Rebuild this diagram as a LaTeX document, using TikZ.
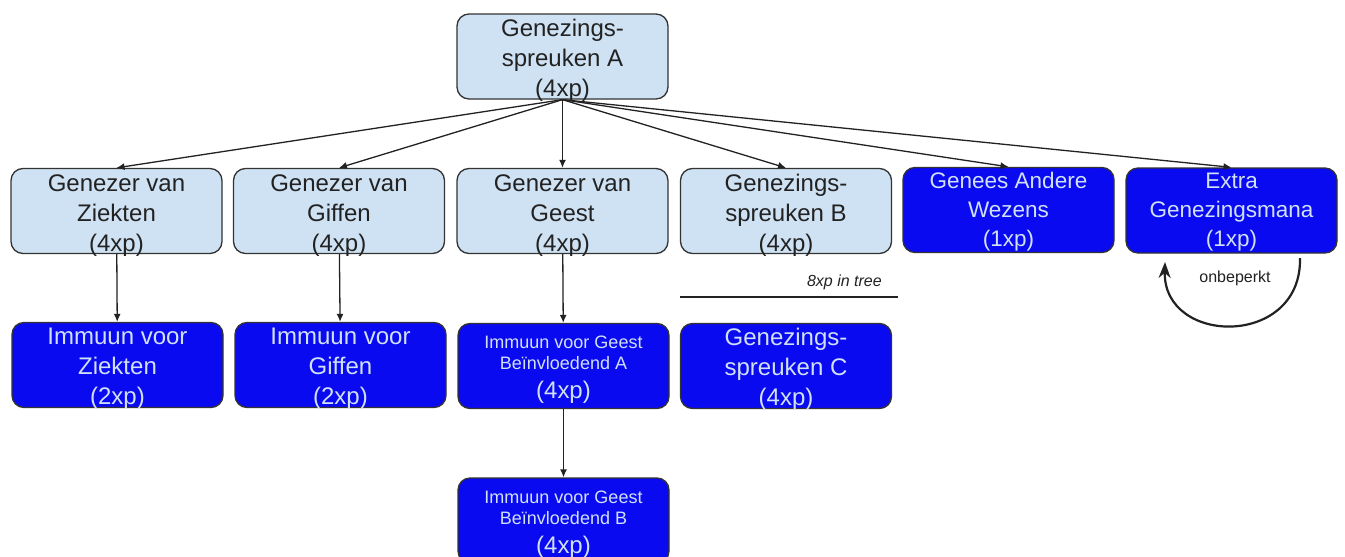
\documentclass[tikz,border=0pt]{standalone}
\usepackage{fontspec}
\setmainfont{Liberation Sans}
\usetikzlibrary{arrows.meta}
\definecolor{lightc}{HTML}{CFE2F3}
\definecolor{darkc}{HTML}{0A0AF0}
\definecolor{bordc}{HTML}{333333}
\definecolor{textd}{HTML}{222222}
\definecolor{textl}{HTML}{D0E0F8}
\definecolor{linec}{HTML}{222222}
\tikzset{
  lbox/.style={draw=bordc, line width=1.3, fill=lightc, rounded corners=12,
    minimum width=211, minimum height=85, inner sep=0, align=center,
    text depth=0, text height=81,
    text=textd, font=\fontsize{24}{30}\selectfont},
  dbox/.style={lbox, fill=darkc, text=textl},
  mbox/.style={dbox, font=\fontsize{22.5}{29}\selectfont, text height=72},
  sbox/.style={dbox, font=\fontsize{18}{21}\selectfont},
  conn/.style={draw=linec, line width=1.3, -{Latex[length=8,width=7]}},
  note/.style={inner sep=0, text=textd, font=\fontsize{16}{19}\selectfont}
}
\begin{document}
\begin{tikzpicture}[x=1pt,y=-1pt]
\clip (0,0) rectangle (1345,557);
\fill[white] (0,0) rectangle (1345,557);
% top
\node[lbox, text height=80] (A) at (562.5,56.5) {Genezings-\\spreuken A\\(4xp)};
% row 1
\node[lbox] (z)  at (116.5,211) {Genezer van\\Ziekten\\(4xp)};
\node[lbox] (gf) at (339,211) {Genezer van\\Giffen\\(4xp)};
\node[lbox] (ge) at (562.5,211) {Genezer van\\Geest\\(4xp)};
\node[lbox] (b)  at (786,211) {Genezings-\\spreuken B\\(4xp)};
\node[mbox] (an) at (1008.5,210) {Genees Andere\\Wezens\\(1xp)};
\node[mbox] (ex) at (1231.5,210.5) {Extra\\Genezingsmana\\(1xp)};
% row 2
\node[dbox, text height=79] (iz) at (117.5,365) {Immuun voor\\Ziekten\\(2xp)};
\node[dbox, text height=79] (ig) at (340.5,365) {Immuun voor\\Giffen\\(2xp)};
\node[sbox, text height=65] (ga) at (563.5,366) {Immuun voor Geest\\Beïnvloedend A\\[8pt]\fontsize{24}{30}\selectfont (4xp)};
\node[dbox, text height=79] (c)  at (786,366) {Genezings-\\spreuken C\\(4xp)};
% row 3
\node[sbox, text height=66] (gb) at (563.5,520.5) {Immuun voor Geest\\Beïnvloedend B\\[8pt]\fontsize{24}{30}\selectfont (4xp)};
% connectors
\foreach \t in {z,gf,ge,b,an,ex}{
  \draw[conn] (A.south) -- (\t.north);
}
\draw[conn] (z) -- (iz);
\draw[conn] (gf) -- (ig);
\draw[conn] (ge) -- (ga);
\draw[conn] (ga) -- (gb);
% tree separator
\coordinate (sepL) at (680,297);
\coordinate (sepR) at (898,297);
\draw[linec, line width=1.8] (sepL) -- (sepR);
\node[note, anchor=east, font=\fontsize{16}{19}\selectfont\itshape] (tree) at (882,282) {8xp in tree};
% loop
\coordinate (arcS) at (1300,258);
\coordinate (arcE) at (1165,262);
\draw[linec, line width=2.2, -{Stealth[length=16,width=12]}] (arcS) .. controls (1302,348) and (1163,346) .. (arcE);
\node[note] (onb) at (1235,278) {onbeperkt};
\end{tikzpicture}
\end{document}
